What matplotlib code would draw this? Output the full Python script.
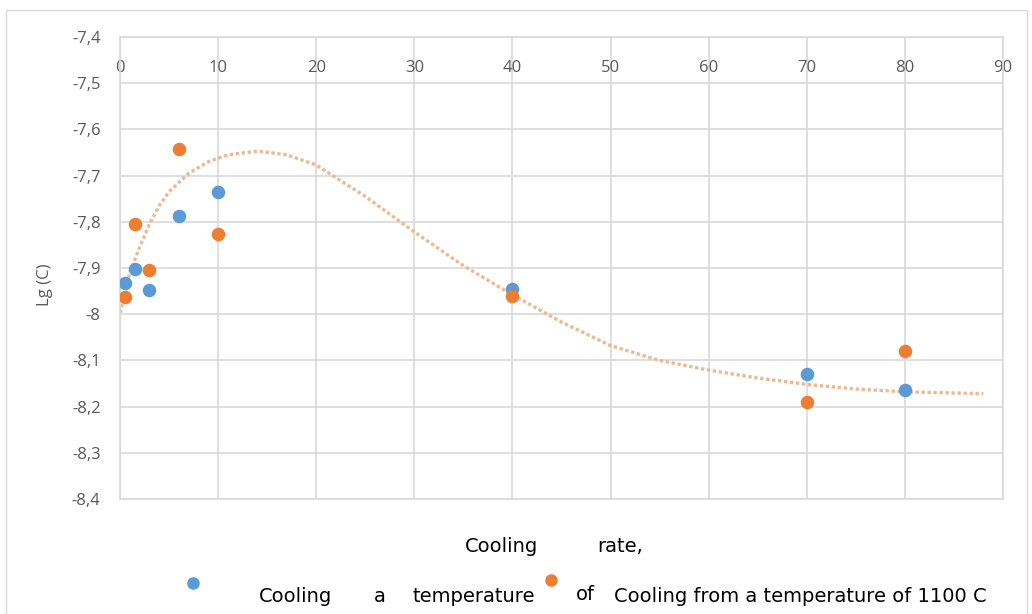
import numpy as np
import matplotlib
matplotlib.use("Agg")
import matplotlib.pyplot as plt
from matplotlib.patches import Rectangle
from matplotlib.ticker import FuncFormatter, MultipleLocator

# cooling rate values and Lg(C) for both series
rate_blue = [0.5, 1.5, 3, 6, 10, 40, 70, 80]
lgc_blue = [-7.932, -7.902, -7.948, -7.787, -7.735, -7.945, -8.129, -8.164]

rate_orange = [0.5, 1.5, 3, 6, 10, 40, 70, 80]
lgc_orange = [-7.963, -7.805, -7.904, -7.642, -7.826, -7.961, -8.190, -8.080]

# trend line
trend_x = [0, 1, 2, 3, 4, 5, 7, 9, 11, 14, 17, 20, 25, 30, 35, 40, 45, 50,
           55, 60, 65, 70, 75, 80, 88]
trend_y = [-7.997, -7.910, -7.855, -7.805, -7.765, -7.735, -7.695, -7.670,
           -7.655, -7.647, -7.655, -7.677, -7.745, -7.822, -7.895, -7.958,
           -8.017, -8.068, -8.100, -8.121, -8.138, -8.152, -8.162, -8.168,
           -8.172]

W, H = 1032, 614
BLUE = "#5B9BD5"
ORANGE = "#ED7D31"
GRID = "#D9D9D9"
TXT = "#595959"

plt.rcParams["font.family"] = ["Liberation Sans Narrow", "DejaVu Sans"]


def px(x, y):
    return x / W, 1 - y / H


fig = plt.figure(figsize=(W / 100, H / 100), dpi=100)
ax = fig.add_axes([120 / W, 1 - 499 / H, (1003 - 120) / W, (499 - 37) / H])

ax.plot(trend_x, trend_y, color="#EDB992", lw=2.4, linestyle=(0, (1, 0.8)),
        dash_capstyle="butt", zorder=2)
ax.scatter(rate_blue, lgc_blue, s=95, color=BLUE, zorder=3, linewidths=0)
ax.scatter(rate_orange, lgc_orange, s=95, color=ORANGE, zorder=3, linewidths=0)

ax.set_xlim(0, 90)
ax.set_ylim(-8.4, -7.4)
ax.xaxis.set_major_locator(MultipleLocator(10))
ax.yaxis.set_major_locator(MultipleLocator(0.1))
ax.yaxis.set_major_formatter(FuncFormatter(lambda v, p: f"{round(v, 1):g}".replace(".", ",")))
ax.grid(True, color=GRID, lw=1.2)
ax.set_axisbelow(True)
for s in ax.spines.values():
    s.set_color(GRID)
    s.set_linewidth(1.2)

ax.tick_params(axis="x", top=True, labeltop=True, bottom=False, labelbottom=False,
               length=0, pad=-28, labelsize=12, labelcolor=TXT)
ax.tick_params(axis="y", length=0, pad=14, labelsize=12, labelcolor=TXT)
for lab in ax.get_xticklabels() + ax.get_yticklabels():
    lab.set_family(["Open Sans", "DejaVu Sans"])

fig.text(*px(45, 285), "Lg (C)", rotation=90, ha="center", va="center",
         fontsize=12, color=TXT, family=["Open Sans", "DejaVu Sans"])

# outer chart border
fig.add_artist(Rectangle(px(6, 640), (1027 - 6) / W, (640 - 10) / H,
                         transform=fig.transFigure, fill=False,
                         edgecolor=GRID, lw=1.0, clip_on=False))

# axis title and legend row
fig.text(*px(502, 547), "Cooling", ha="center", va="center", fontsize=14, color="black")
fig.text(*px(620, 547), "rate,", ha="center", va="center", fontsize=14, color="black")

fig.add_artist(plt.Line2D([px(193, 0)[0]], [px(0, 583)[1]], marker="o", ms=8,
                          color=BLUE, transform=fig.transFigure))
fig.add_artist(plt.Line2D([px(551, 0)[0]], [px(0, 580)[1]], marker="o", ms=8,
                          color=ORANGE, transform=fig.transFigure))
fig.text(*px(295, 596), "Cooling", ha="center", va="center", fontsize=14)
fig.text(*px(380, 596), "a", ha="center", va="center", fontsize=14)
fig.text(*px(474, 596), "temperature", ha="center", va="center", fontsize=14)
fig.text(*px(585, 594), "of", ha="center", va="center", fontsize=14)
fig.text(*px(800, 596), "Cooling from a temperature of 1100 C", ha="center",
         va="center", fontsize=14)

fig.savefig("out.png", dpi=100)
